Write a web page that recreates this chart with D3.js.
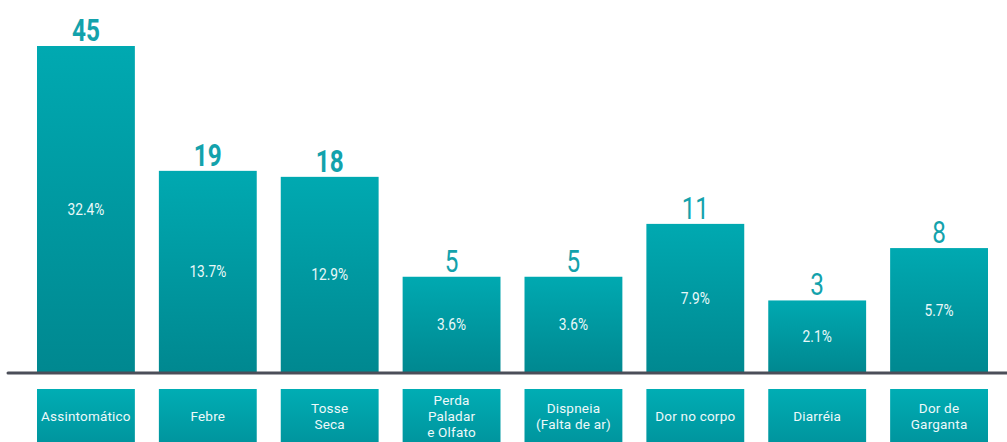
<!DOCTYPE html>
<html>
<head>
<meta charset="utf-8">
<script src="https://cdn.jsdelivr.net/npm/d3@7"></script>
<style>
body{ margin:0; background:#fff; }
</style>
</head>
<body>
<svg id="chart" width="1007" height="442"></svg>

<script>
/// Data
var categories = ["Assintomático", "Febre", "Tosse\nSeca", "Perda\nPaladar\ne Olfato",
                  "Dispneia\n(Falta de ar)", "Dor no corpo", "Diarréia", "Dor de\nGarganta"];
var counts = [45, 19, 18, 5, 5, 11, 3, 8];
var percents = [32.4, 13.7, 12.9, 3.6, 3.6, 7.9, 2.1, 5.7];

var svg = d3.select("#chart");

var baseY = 372;

var x = d3.scaleBand()
    .domain(categories)
    .range([37, 988])
    .paddingInner(0.197)
    .paddingOuter(0);

/// The original drawing is not linear: a pow scale fits it best
var y = d3.scalePow()
    .exponent(0.56)
    .domain([0, 45])
    .range([baseY, 46]);

/// Gradients
var defs = svg.append("defs");
var gBar = defs.append("linearGradient").attr("id", "barGrad")
    .attr("x1", 0).attr("y1", 0).attr("x2", 0).attr("y2", 1);
gBar.append("stop").attr("offset", "0%").attr("stop-color", "#00a9b1");
gBar.append("stop").attr("offset", "100%").attr("stop-color", "#008890");

var gBox = defs.append("linearGradient").attr("id", "boxGrad")
    .attr("x1", 0).attr("y1", 0).attr("x2", 0).attr("y2", 1);
gBox.append("stop").attr("offset", "0%").attr("stop-color", "#00adb4");
gBox.append("stop").attr("offset", "100%").attr("stop-color", "#00929b");

var data = categories.map(function(c, i){
    return {cat: c, n: counts[i], pct: percents[i]};
});

/// Bars
svg.append("g").selectAll("rect")
    .data(data)
  .enter().append("rect")
    .attr("x", function(d){ return x(d.cat); })
    .attr("y", function(d){ return y(d.n); })
    .attr("width", x.bandwidth())
    .attr("height", function(d){ return baseY - y(d.n); })
    .attr("fill", "url(#barGrad)");

/// Baseline
svg.append("line")
    .attr("x1", 8).attr("x2", 1007)
    .attr("y1", baseY + 1).attr("y2", baseY + 1)
    .attr("stroke", "#4b4e59")
    .attr("stroke-width", 3)
    .attr("stroke-linecap", "round");

/// Counts above bars
svg.append("g").selectAll("text")
    .data(data)
  .enter().append("text")
    .attr("transform", function(d){
        return "translate(" + (x(d.cat) + x.bandwidth() / 2) + "," + (y(d.n) - 5) + ") scale(0.76,1)";
    })
    .attr("text-anchor", "middle")
    .attr("font-family", "Roboto, sans-serif")
    .attr("font-size", 32)
    .attr("font-weight", function(d){ return d.n >= 18 ? 700 : 400; })
    .attr("fill", "#13a2ac")
    .text(function(d){ return d.n; });

/// Percentages inside bars
svg.append("g").selectAll("text")
    .data(data)
  .enter().append("text")
    .attr("transform", function(d){
        var cy = (y(d.n) + baseY) / 2;
        return "translate(" + (x(d.cat) + x.bandwidth() / 2) + "," + (cy + 6) + ") scale(0.86,1)";
    })
    .attr("text-anchor", "middle")
    .attr("font-family", "Roboto, sans-serif")
    .attr("font-size", 16)
    .attr("fill", "#e9f8f9")
    .text(function(d){ return d3.format(".1f")(d.pct) + "%"; });

/// Category boxes
var box = svg.append("g").selectAll("g")
    .data(data)
  .enter().append("g")
    .attr("transform", function(d){ return "translate(" + x(d.cat) + ",389)"; });

box.append("rect")
    .attr("width", x.bandwidth())
    .attr("height", 60)
    .attr("fill", "url(#boxGrad)");

box.append("text")
    .attr("text-anchor", "middle")
    .attr("font-family", "Roboto, sans-serif")
    .attr("font-size", 13.5)
    .attr("letter-spacing", 0.2)
    .attr("fill", "#eef9fa")
    .each(function(d){
        var lines = d.cat.split("\n");
        var lh = 16;
        var top = 27 - (lines.length - 1) * lh / 2 + 4.5;
        var t = d3.select(this);
        lines.forEach(function(l, i){
            t.append("tspan")
                .attr("x", x.bandwidth() / 2)
                .attr("y", top + i * lh)
                .text(l);
        });
    });
</script>
</body>
</html>
